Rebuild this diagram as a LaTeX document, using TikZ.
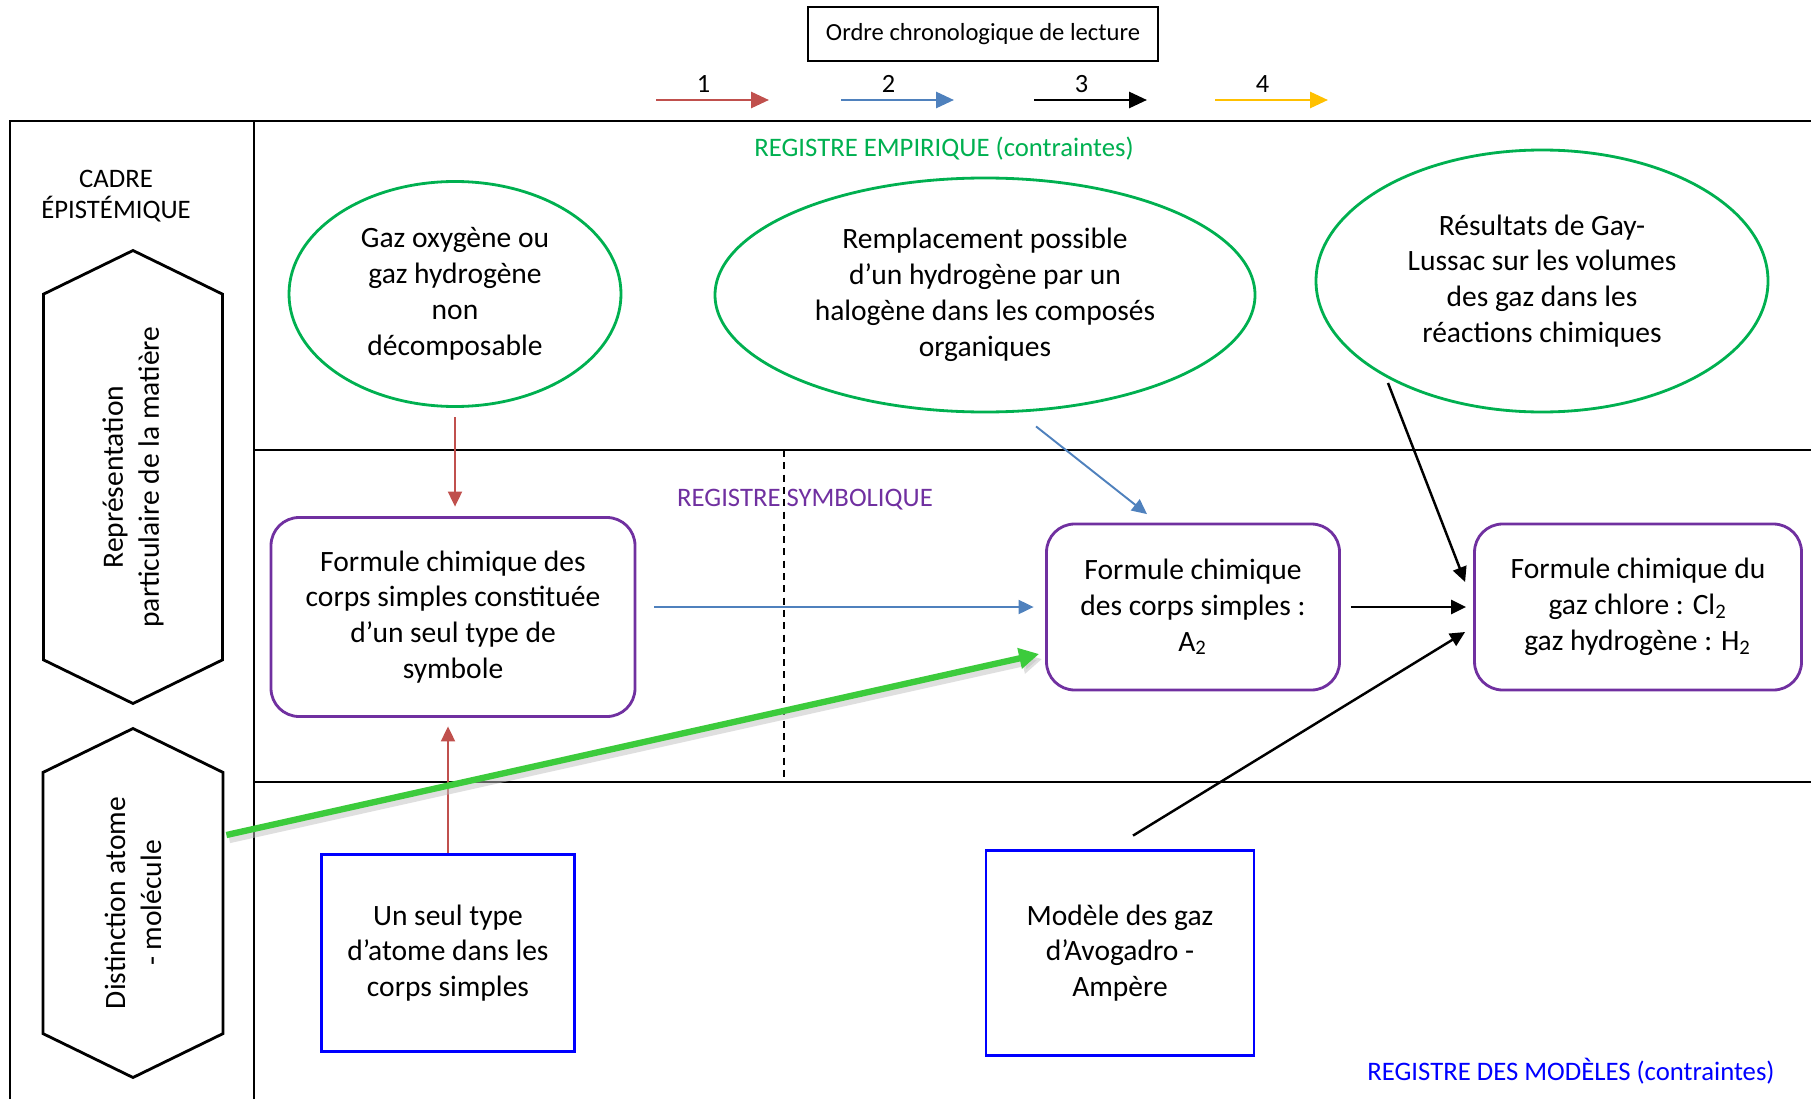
\documentclass[tikz,border=0pt]{standalone}
\usepackage{fontspec}
\setmainfont{Carlito}
\usepackage{xcolor}
\definecolor{vertReg}{HTML}{00B050}
\definecolor{violetReg}{HTML}{7030A0}
\definecolor{bleuReg}{HTML}{0000FF}
\definecolor{rougeFl}{HTML}{C0504D}
\definecolor{bleuFl}{HTML}{4F81BD}
\definecolor{jauneFl}{HTML}{FFC000}
\definecolor{vertFl}{HTML}{3CCB3C}
\usepackage{tikz}
\usetikzlibrary{arrows.meta,positioning,shapes.geometric,shapes.symbols,calc}

\tikzset{
  constat/.style={ellipse,draw=vertReg,line width=0.8pt,inner sep=0pt,align=center},
  symbole/.style={rectangle,rounded corners=8pt,draw=violetReg,line width=0.8pt,align=center},
  modele/.style={rectangle,draw=bleuReg,line width=0.8pt,align=center},
  cadre/.style={signal,signal to=east and west,signal pointer angle=128,draw,line width=0.8pt,
    inner sep=0pt,align=center,rotate=90},
  fleche/.style={-{Triangle[length=1.5mm,width=1.4mm]},line width=0.55pt},
  petit/.style={font=\fontsize{7}{8.5}\selectfont},
  registre/.style={font=\fontsize{7.6}{9}\selectfont},
}

\begin{document}
\begin{tikzpicture}[x=1cm,y=1cm,font=\fontsize{8.4}{10.2}\selectfont]
\useasboundingbox (0,0) rectangle (18.11,10.99);

% Tableau
\draw[line width=0.8pt] (0.10,0) -- (0.10,9.78) -- (18.11,9.78);
\draw[line width=0.8pt] (2.54,0) -- (2.54,9.78);
\draw[line width=0.8pt] (2.54,6.49) -- (18.11,6.49);
\draw[line width=0.8pt] (2.54,3.17) -- (18.11,3.17);
\draw[dash pattern=on 2pt off 1.5pt,line width=0.6pt] (7.84,6.49) -- (7.84,3.17);

% Légende
\node[draw,line width=0.6pt,petit,minimum width=3.50cm,minimum height=0.54cm]
    (titre) at (9.83,10.65) {Ordre chronologique de lecture};

\foreach \n/\c/\xa in {1/rougeFl/6.56,2/bleuFl/8.41,3/black/10.34,4/jauneFl/12.15}{
  \coordinate (dep\n) at (\xa,9.99);
  \coordinate (arr\n) at (\xa+1.13,9.99);
  \draw[-{Triangle[length=1.8mm,width=1.6mm]},line width=0.8pt,\c] (dep\n) -- (arr\n);
  \node[font=\fontsize{7.5}{9}\selectfont,above=-0.5mm] (num\n) at ($(dep\n)!0.42!(arr\n)$) {\n};
}

% Cadre épistémique
\node[registre,align=center] (cadreEp) at (1.16,9.03) {CADRE\\ÉPISTÉMIQUE};
\node[cadre,minimum width=4.53cm,minimum height=1.79cm] (hexa1) at (1.33,6.22)
    {Représentation\\particulaire de la matière};
\node[cadre,minimum width=3.49cm,minimum height=1.80cm] (hexa2) at (1.33,1.96)
    {Distinction atome\\- molécule};

% Registre empirique
\node[registre,text=vertReg] (regEmp) at (9.44,9.50) {REGISTRE EMPIRIQUE (contraintes)};
\node[constat,minimum width=3.32cm,minimum height=2.25cm] (ell1) at (4.55,8.05)
    {Gaz oxygène ou\\gaz hydrogène\\non\\décomposable};
\node[constat,minimum width=5.40cm,minimum height=2.34cm] (ell2) at (9.85,8.04)
    {Remplacement possible\\d’un hydrogène par un\\halogène dans les composés\\organiques};
\node[constat,minimum width=4.52cm,minimum height=2.62cm] (ell3) at (15.42,8.18)
    {Résultats de Gay-\\Lussac sur les volumes\\des gaz dans les\\réactions chimiques};

% Registre symbolique
\node[registre,text=violetReg] (regSym) at (8.05,5.99) {REGISTRE SYMBOLIQUE};
\node[symbole,minimum width=3.64cm,minimum height=1.99cm] (box1) at (4.53,4.82)
    {Formule chimique des\\corps simples constituée\\d’un seul type de\\symbole};
\node[symbole,minimum width=2.93cm,minimum height=1.66cm] (box2) at (11.93,4.92)
    {Formule chimique\\des corps simples :\\A\textsubscript{2}};
\node[symbole,minimum width=3.27cm,minimum height=1.66cm] (box3) at (16.38,4.92)
    {Formule chimique du\\gaz chlore : Cl\textsubscript{2}\\gaz hydrogène : H\textsubscript{2}};

% Registre des modèles
\node[modele,minimum width=2.53cm,minimum height=1.97cm] (mod1) at (4.48,1.46)
    {Un seul type\\d’atome dans les\\corps simples};
\node[modele,minimum width=2.68cm,minimum height=2.05cm] (mod2) at (11.20,1.46)
    {Modèle des gaz\\d’Avogadro -\\Ampère};
\node[registre,text=bleuReg] (regMod) at (15.71,0.28) {REGISTRE DES MODÈLES (contraintes)};

% Flèches 1
\draw[fleche,rougeFl,shorten <=0.95mm,shorten >=0.95mm]
    (ell1.south) -- (ell1.south |- box1.north);
\draw[fleche,rougeFl,shorten >=0.85mm]
    (mod1.north) -- (mod1.north |- box1.south);

% Flèches 2
\draw[fleche,bleuFl,shorten <=1.8mm,shorten >=1.15mm]
    (box1.east |- box2.west) -- (box2.west);
\draw[fleche,bleuFl]
    ([xshift=5.1mm,yshift=-1.3mm]ell2.south) -- ([xshift=-4.6mm,yshift=0.85mm]box2.north);

% Flèches 3
\draw[fleche,black,line width=0.7pt,shorten <=1mm,shorten >=0.7mm]
    (box2.east) -- (box3.west);
\draw[fleche,black,line width=0.7pt]
    ([shift={(-1.54,-1.02)}]ell3.center) -- ([xshift=-0.8mm,yshift=2.5mm]box3.west);
\draw[fleche,black,line width=0.7pt]
    ([shift={(0.13,0.135)}]mod2.north) -- ([xshift=-0.8mm,yshift=-2.5mm]box3.west);

% Flèche verte
\draw[-{Triangle[length=2mm,width=2mm]},line width=1.8pt,black!25,opacity=0.5,
    transform canvas={xshift=0.3mm,yshift=-0.5mm}]
    ([xshift=0.2mm,yshift=6.8mm]hexa2.south) -- ([xshift=-0.6mm,yshift=-4.7mm]box2.west);
\draw[-{Triangle[length=2mm,width=2mm]},line width=1.8pt,vertFl]
    ([xshift=0.2mm,yshift=6.8mm]hexa2.south) -- ([xshift=-0.6mm,yshift=-4.7mm]box2.west);

\end{tikzpicture}
\end{document}
